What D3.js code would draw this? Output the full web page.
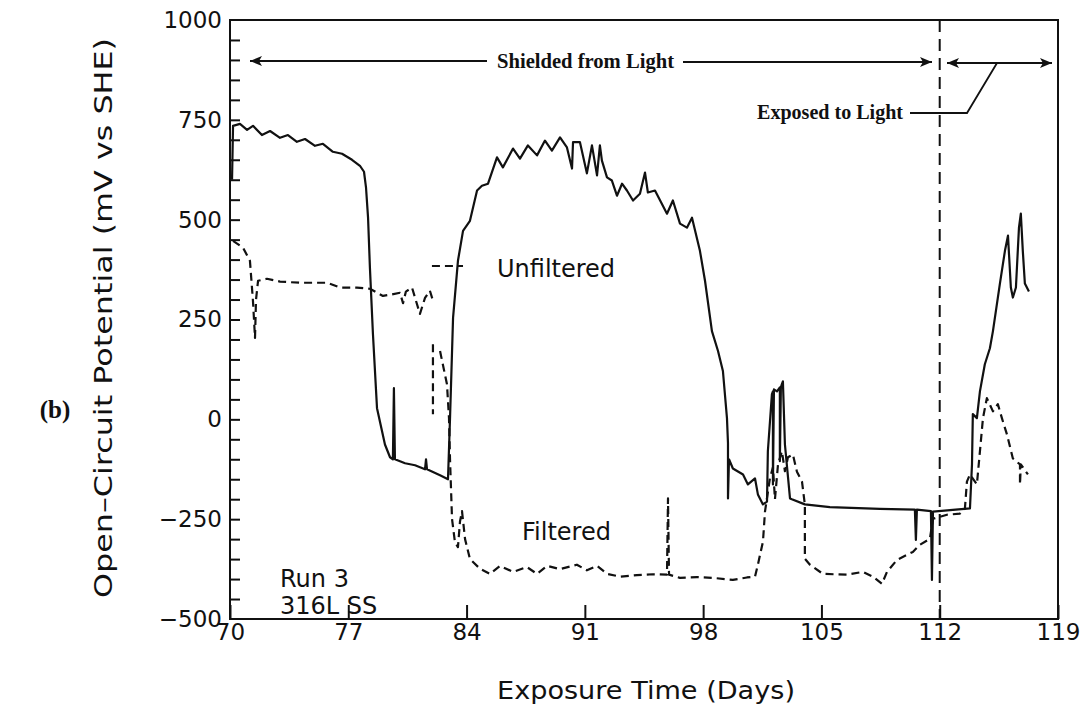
<!DOCTYPE html>
<html>
<head>
<meta charset="utf-8">
<script src="https://cdn.jsdelivr.net/npm/d3@7"></script>
<style>
  body { margin: 0; background: #fff; }
  svg { display: block; }
</style>
</head>
<body>
<svg id="chart" width="1088" height="706"></svg>
<script>
// Open-circuit potential of 316L SS, run 3 (days 70–119)
// null entries break the trace into separate strokes.
const unfilteredDays = [
  70.12, 70.18, 70.59, 71.01, 71.36, 71.89, 72.37, 72.96, 73.43, 73.96, 74.44, 75.03, 75.50, 76.09,
  76.63, 77.22, 77.69, 77.93, 78.05, 78.17, 78.28, 78.46, 78.70, 79.17, 79.47, 79.64, 79.70, 79.76,
  80.36, 80.95, 81.54, 81.60, 81.66, 82.43, 82.90, 83.02, 83.20, 83.49, 83.79, 84.20, 84.62, 84.91,
  85.27, 85.80, 86.15, 86.75, 87.16, 87.63, 88.17, 88.64, 89.05, 89.53, 89.94, 90.24, 90.30, 90.71,
  91.12, 91.42, 91.72, 91.89, 92.01, 92.31, 92.60, 92.90, 93.20, 93.49, 93.85, 94.26, 94.56, 94.73,
  95.15, 95.86, 96.21, 96.63, 97.04, 97.34, 97.81, 98.11, 98.52, 98.88, 99.17, 99.41, 99.47, 99.47,
  99.53, 99.76, 100.36, 100.65, 101.07, 101.24, 101.54, 101.78, 101.83, 102.07, 102.13, 102.13, 102.19,
  102.37, 102.54, 102.54, 102.60, 102.66, 102.72, 102.84, 103.14, 103.25, 104.02, 105.50, 108.46,
  110.53, 110.59, 110.65, 111.48, 111.54, 111.60, 113.79, 113.91, 113.96, 114.20, 114.38, 114.67,
  114.97, 115.15, 115.56, 115.86, 116.04, 116.21, 116.33, 116.51, 116.69, 116.80, 116.92, 117.04, 117.28
];
const unfilteredMv = [
  600, 735, 740, 725, 735, 712, 722, 705, 712, 695, 702, 685, 690, 670,
  665, 650, 635, 620, 580, 505, 380, 213, 28, -63, -95, -100, 78, -100,
  -110, -115, -125, -100, -125, -140, -150, 2, 254, 397, 472, 497, 573, 585,
  590, 656, 631, 678, 653, 686, 661, 698, 673, 706, 681, 628, 694, 694,
  616, 686, 611, 686, 648, 606, 598, 560, 590, 573, 548, 565, 618, 568,
  573, 515, 548, 490, 480, 505, 422, 347, 221, 171, 121, 3, -60, -198,
  -100, -123, -138, -163, -148, -188, -213, -206, -80, 63, 70, -163, 75,
  70, 80, -105, 80, 88, 95, -63, -198, -200, -213, -220, -224,
  -226, -302, -226, -230, -402, -231, -223, -113, 13, 3, 70, 138,
  178, 221, 339, 422, 460, 330, 305, 330, 480, 515, 420, 340, 320
];

const filteredDays = [
  70.18, 70.77, 71.18, 71.36, 71.48, 71.54, 71.66, 72.19, 72.96, 74.14, 75.74, 76.51, 77.51, 78.28,
  79.05, 79.47, 80.06, 80.24, 80.41, 80.77, 81.24, 81.54, 81.83, 82.01, null,
  81.95, 83.79, null,
  82.01, 82.01, null,
  82.43, 82.84, 82.96, 83.02, 83.14, 83.31, 83.49, 83.61, 83.73, 83.91, 84.20, 84.79, 85.38, 85.98,
  86.75, 87.57, 88.17, 88.76, 89.53, 90.53, 91.12, 91.72, 92.31, 93.08, 94.08, 95.03, 95.86, 95.92,
  95.98, 96.63, 97.63, 98.58, 99.76, 100.59, 101.07, 101.24, 101.54, 101.66, 101.95, 102.13, 102.25,
  102.43, 102.66, 102.84, 103.02, 103.31, 103.55, 103.85, 104.02, 104.02, 104.32, 105.09, 106.51,
  107.46, 108.05, 108.58, 108.88, 109.47, 110.41, 110.83, 111.42, 111.60, 112.43, 113.20, 113.49,
  113.61, 113.79, 114.20, 114.38, 114.56, 114.79, 115.15, 115.44, 115.68, 115.98, 116.33, 116.75,
  116.75, 116.80, 117.22
];
const filteredMv = [
  447, 430, 397, 296, 204, 300, 347, 352, 345, 342, 342, 330, 330, 327,
  309, 312, 317, 291, 320, 330, 264, 304, 322, 297, null,
  384, 384, null,
  188, 13, null,
  171, 88, 3, -100, -250, -307, -320, -256, -230, -300, -350, -374, -387, -367,
  -382, -370, -387, -367, -375, -364, -378, -367, -387, -394, -390, -388, -389, -198,
  -389, -397, -395, -397, -402, -396, -394, -364, -306, -231, -148, -120, -200,
  -113, -80, -130, -95, -88, -131, -156, -214, -349, -364, -387, -389,
  -382, -394, -412, -382, -352, -332, -314, -299, -249, -239, -236, -224,
  -156, -138, -163, -80, 3, 53, 20, 38, 3, -38, -98, -113,
  -163, -113, -138
];

const xTickValues = [70, 77, 84, 91, 98, 105, 112, 119];
const yTickValues = [-500, -250, 0, 250, 500, 750, 1000];
const yTickLabels = ["\u2212500", "\u2212250", "0", "250", "500", "750", "1000"];
const lightSwitchDay = 112;

const svg = d3.select("#chart");
const margin = { left: 230, top: 20, right: 30, bottom: 87 };
const W = 1088, H = 706;

const x = d3.scaleLinear().domain([70, 119]).range([margin.left, W - margin.right]);
const y = d3.scaleLinear().domain([-500, 1000]).range([H - margin.bottom, margin.top]);

const sans = "'DejaVu Sans', sans-serif";
const serif = "'Liberation Serif', 'DejaVu Serif', serif";

// Frame
svg.append("rect")
  .attr("x", x(70)).attr("y", y(1000))
  .attr("width", x(119) - x(70)).attr("height", y(-500) - y(1000))
  .attr("fill", "none").attr("stroke", "#111").attr("stroke-width", 2);

// Y axis: minor ticks every 50 mV, pointing inward
const yMinor = d3.axisLeft(y).tickValues(d3.range(-450, 1000, 50)).tickSize(-10).tickFormat("");
const gyMinor = svg.append("g").attr("transform", `translate(${x(70)},0)`).call(yMinor);
gyMinor.select(".domain").remove();
gyMinor.selectAll("line").attr("stroke", "#111").attr("stroke-width", 2);

const yAxis = d3.axisLeft(y).tickValues(yTickValues).tickSize(0).tickPadding(8)
  .tickFormat((d, i) => yTickLabels[i]);
const gy = svg.append("g").attr("transform", `translate(${x(70)},0)`).call(yAxis);
gy.select(".domain").remove();
gy.selectAll("text").attr("font-family", sans).attr("font-size", 23).attr("fill", "#111");

// X axis: major ticks pointing inward
const xAxis = d3.axisBottom(x).tickValues(xTickValues).tickSize(-14).tickPadding(5).tickFormat(d3.format("d"));
const gx = svg.append("g").attr("transform", `translate(0,${y(-500)})`).call(xAxis);
gx.select(".domain").remove();
gx.selectAll("line").attr("stroke", "#111").attr("stroke-width", 2);
gx.selectAll("text").attr("font-family", sans).attr("font-size", 23).attr("fill", "#111")
  .attr("dy", "0.71em");

// Axis titles
svg.append("text")
  .attr("x", 646).attr("y", 699)
  .attr("text-anchor", "middle").attr("font-family", sans).attr("font-size", 25).attr("fill", "#111")
  .attr("textLength", 298).attr("lengthAdjust", "spacingAndGlyphs")
  .text("Exposure Time (Days)");

svg.append("text")
  .attr("transform", `translate(112,318) rotate(-90)`)
  .attr("text-anchor", "middle").attr("font-family", sans).attr("font-size", 25).attr("fill", "#111")
  .attr("textLength", 560).attr("lengthAdjust", "spacingAndGlyphs")
  .text("Open\u2013Circuit Potential (mV vs SHE)");

svg.append("text")
  .attr("x", 55).attr("y", 418).attr("text-anchor", "middle")
  .attr("font-family", serif).attr("font-weight", "bold").attr("font-size", 25).attr("fill", "#111")
  .text("(b)");

// Light-switch marker
svg.append("line")
  .attr("x1", x(lightSwitchDay)).attr("x2", x(lightSwitchDay))
  .attr("y1", y(1000)).attr("y2", y(-500))
  .attr("stroke", "#111").attr("stroke-width", 2).attr("stroke-dasharray", "12,7");

// Data traces
const line = d3.line()
  .defined(d => d[0] != null && d[1] != null)
  .x(d => x(d[0])).y(d => y(d[1]));

const unfiltered = unfilteredDays.map((d, i) => [d, unfilteredMv[i]]);
const filtered = filteredDays.map((d, i) => [d, filteredMv[i]]);

svg.append("path").datum(filtered).attr("d", line)
  .attr("fill", "none").attr("stroke", "#111").attr("stroke-width", 2.2)
  .attr("stroke-dasharray", "8,5").attr("stroke-linejoin", "round");

svg.append("path").datum(unfiltered).attr("d", line)
  .attr("fill", "none").attr("stroke", "#111").attr("stroke-width", 2.2)
  .attr("stroke-linejoin", "round");

// Series labels
const label = (tx, ty, t) => svg.append("text").attr("x", tx).attr("y", ty)
  .attr("font-family", sans).attr("font-size", 24).attr("fill", "#111").text(t);
label(497, 277, "Unfiltered");
label(522, 540, "Filtered");
label(280, 587, "Run 3");
label(280, 614, "316L SS");

// Light-condition annotations
const defs = svg.append("defs");
defs.append("marker").attr("id", "head").attr("viewBox", "0 0 12 10")
  .attr("refX", 12).attr("refY", 5).attr("markerWidth", 12).attr("markerHeight", 10)
  .attr("markerUnits", "userSpaceOnUse").attr("orient", "auto-start-reverse")
  .append("path").attr("d", "M0,0 L12,5 L0,10 L3,5 Z").attr("fill", "#111");

const ann = svg.append("g").attr("stroke", "#111").attr("stroke-width", 1.8).attr("fill", "none");
ann.append("line").attr("x1", 487).attr("y1", 61).attr("x2", 250).attr("y2", 61)
  .attr("marker-end", "url(#head)");
ann.append("line").attr("x1", 683).attr("y1", 62).attr("x2", 932).attr("y2", 62)
  .attr("marker-end", "url(#head)");
ann.append("line").attr("x1", 947).attr("y1", 63).attr("x2", 1052).attr("y2", 63)
  .attr("marker-start", "url(#head)").attr("marker-end", "url(#head)");
ann.append("polyline").attr("points", "997,63 967,113 910,113");

svg.append("text").attr("x", 497).attr("y", 68)
  .attr("font-family", serif).attr("font-weight", "bold").attr("font-size", 20).attr("fill", "#111")
  .attr("textLength", 177).attr("lengthAdjust", "spacingAndGlyphs")
  .text("Shielded from Light");
svg.append("text").attr("x", 903).attr("y", 119).attr("text-anchor", "end")
  .attr("font-family", serif).attr("font-weight", "bold").attr("font-size", 20).attr("fill", "#111")
  .attr("textLength", 146).attr("lengthAdjust", "spacingAndGlyphs")
  .text("Exposed to Light");
</script>
</body>
</html>
